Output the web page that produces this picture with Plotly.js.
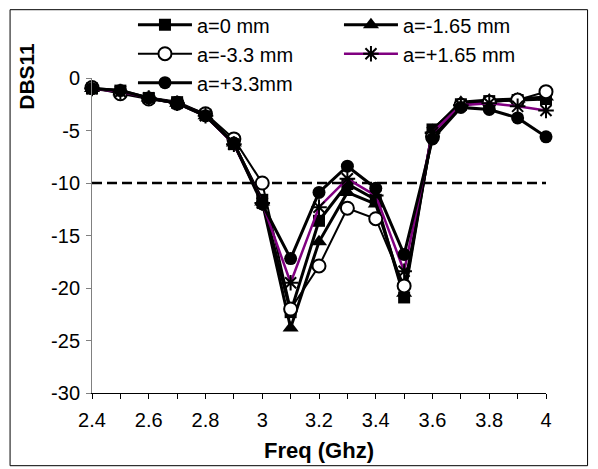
<!DOCTYPE html>
<html>
<head>
<meta charset="utf-8">
<script src="https://cdn.plot.ly/plotly-3.0.1.min.js"></script>
<style>
  html, body { margin: 0; padding: 0; background: #fff; }
  #chart { width: 598px; height: 469px; }
</style>
</head>
<body>
<div id="chart"></div>
<script>
// Frequency sweep (GHz)
const freq = [2.4, 2.5, 2.6, 2.7, 2.8, 2.9, 3.0, 3.1, 3.2, 3.3, 3.4, 3.5, 3.6, 3.7, 3.8, 3.9, 4.0];

// S11 (dB) for each offset a
const s11_a0      = [-1.0, -1.2, -1.9, -2.3, -3.5, -6.3, -11.6, -22.3, -13.6, -10.1, -11.6, -20.9, -4.9, -2.5, -2.2, -2.1, -2.0];
const s11_aM165   = [-1.0, -1.3, -1.9, -2.4, -3.6, -6.2, -11.8, -23.8, -15.6, -10.9, -12.0, -20.5, -5.0, -2.3, -2.1, -2.0, -1.8];
const s11_aM33    = [-0.9, -1.5, -2.0, -2.4, -3.4, -5.8, -10.0, -22.0, -17.9, -12.4, -13.4, -19.8, -5.6, -2.6, -2.3, -2.1, -1.3];
const s11_aP165   = [-1.0, -1.3, -1.9, -2.4, -3.6, -6.3, -11.9, -19.5, -12.3, -9.6, -11.2, -18.4, -5.2, -2.6, -2.4, -2.7, -3.1];
const s11_aP33    = [-1.0, -1.2, -1.9, -2.4, -3.6, -6.2, -12.0, -17.2, -10.9, -8.4, -10.5, -16.8, -5.8, -2.8, -3.0, -3.8, -5.6];

// -10 dB reference level
const refLevel = -10;

const seriesNames = ['a=0 mm', 'a=-1.65 mm', 'a=-3.3 mm', 'a=+1.65 mm', 'a=+3.3mm'];

// Axis ticks
const xTickVals = [2.4, 2.6, 2.8, 3.0, 3.2, 3.4, 3.6, 3.8, 4.0];
const xTickText = ['2.4', '2.6', '2.8', '3', '3.2', '3.4', '3.6', '3.8', '4'];
const yTickVals = [0, -5, -10, -15, -20, -25, -30];
const yTickText = ['0', '-5', '-10', '-15', '-20', '-25', '-30'];

const FONT = 'Liberation Sans, Arial, sans-serif';

const traces = [
  {
    x: [freq[0], freq[freq.length - 1]],
    y: [refLevel, refLevel],
    mode: 'lines',
    line: { color: '#000', width: 2.5, dash: '10px,5px' },
    showlegend: false,
    hoverinfo: 'skip'
  },
  {
    x: freq, y: s11_a0, name: seriesNames[0], mode: 'lines+markers',
    line: { color: '#000', width: 3 },
    marker: { symbol: 'square', size: 12, color: '#000' }
  },
  {
    x: freq, y: s11_aM165, name: seriesNames[1], mode: 'lines+markers',
    line: { color: '#000', width: 3 },
    marker: { symbol: 'triangle-up', size: 14, color: '#000' }
  },
  {
    x: freq, y: s11_aM33, name: seriesNames[2], mode: 'lines+markers',
    line: { color: '#000', width: 2 },
    marker: { symbol: 'circle', size: 13, color: '#fff', line: { color: '#000', width: 2 } }
  },
  {
    x: freq, y: s11_aP165, name: seriesNames[3], mode: 'lines+markers',
    line: { color: '#800080', width: 2.5 },
    marker: { symbol: 'asterisk-open', size: 13, color: '#000', line: { color: '#000', width: 2 } }
  },
  {
    x: freq, y: s11_aP33, name: seriesNames[4], mode: 'lines+markers',
    line: { color: '#000', width: 3 },
    marker: { symbol: 'circle', size: 13, color: '#000' }
  }
];
traces.forEach(t => { t.cliponaxis = false; });

const W = 598, H = 469;
const L = 92, R = 51.6, T = 78.3, B = 75.7;
const pw = W - L - R, ph = H - T - B;
const px2x = v => (v - L) / pw;
const px2y = v => (H - B - v) / ph;

const layout = {
  width: W, height: H,
  margin: { l: L, r: R, t: T, b: B, autoexpand: false },
  paper_bgcolor: '#fff',
  plot_bgcolor: '#fff',
  font: { family: FONT, size: 20, color: '#000' },
  showlegend: true,
  legend: {
    orientation: 'h',
    x: px2x(133), y: px2y(5.5),
    xanchor: 'left', yanchor: 'top',
    font: { family: FONT, size: 20, color: '#000' },
    itemwidth: 54,
    entrywidth: 137,
    bgcolor: 'rgba(0,0,0,0)',
    traceorder: 'normal'
  },
  xaxis: {
    range: [2.4, 4.0],
    tickvals: xTickVals, ticktext: xTickText,
    ticks: 'outside', ticklen: 5, tickcolor: '#000', tickwidth: 1,
    minor: { tick0: 2.4, dtick: 0.1, ticks: 'outside', ticklen: 5, tickcolor: '#000', tickwidth: 1, showgrid: false },
    showline: true, linecolor: '#000', linewidth: 1,
    showgrid: false, zeroline: false,
    ticklabelstandoff: 4,
    tickfont: { family: FONT, size: 20 },
    title: { text: '<b>Freq (Ghz)</b>', font: { family: FONT, size: 22 }, standoff: 12 }
  },
  yaxis: {
    range: [-30, 0],
    tickvals: yTickVals, ticktext: yTickText,
    ticks: 'outside', ticklen: 5, tickcolor: '#808080', tickwidth: 1,
    showline: true, linecolor: '#808080', linewidth: 1,
    showgrid: false, zeroline: false,
    ticklabelstandoff: 2,
    tickfont: { family: FONT, size: 20 }
  },
  annotations: [
    {
      text: '<b>DBS11</b>', textangle: -90,
      xref: 'paper', yref: 'paper',
      x: px2x(27), y: px2y(77),
      xanchor: 'center', yanchor: 'middle',
      showarrow: false,
      font: { family: FONT, size: 21, color: '#000' }
    }
  ],
  shapes: [
    {
      type: 'rect', xref: 'paper', yref: 'paper',
      x0: px2x(10), x1: px2x(588), y0: px2y(466), y1: px2y(10),
      line: { color: '#000', width: 1 }, fillcolor: 'rgba(0,0,0,0)', layer: 'below'
    }
  ]
};

Plotly.newPlot('chart', traces, layout, { staticPlot: true, displayModeBar: false });
</script>
</body>
</html>
